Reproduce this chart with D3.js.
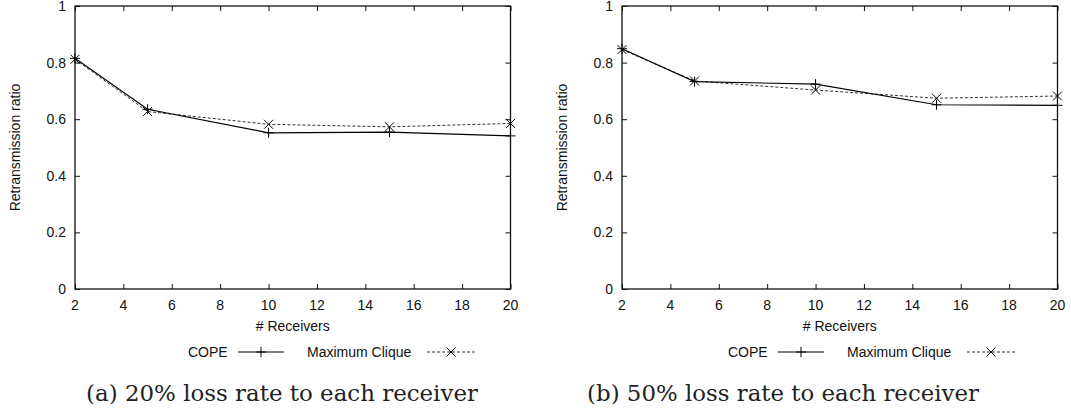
<!DOCTYPE html>
<html>
<head>
<meta charset="utf-8">
<script src="https://cdnjs.cloudflare.com/ajax/libs/d3/7.8.5/d3.min.js"></script>
<style>
  body { margin: 0; background: #fff; }
  svg { display: block; }
  .tick-label, .axis-title, .legend-label { font-family: "Liberation Sans", Arial, sans-serif; font-size: 14px; fill: #111; }
  .caption { font-family: "DejaVu Serif", serif; fill: #222; }
</style>
</head>
<body>
<div id="chart"></div>
<script>
// data
const receivers = [2, 5, 10, 15, 20];
const copeLoss20 = [0.815, 0.635, 0.552, 0.554, 0.541];
const cliqueLoss20 = [0.812, 0.627, 0.582, 0.573, 0.585];
const copeLoss50 = [0.849, 0.733, 0.724, 0.651, 0.649];
const cliqueLoss50 = [0.846, 0.735, 0.703, 0.674, 0.682];

const xTicks = [2, 4, 6, 8, 10, 12, 14, 16, 18, 20];
const yTicks = [0, 0.2, 0.4, 0.6, 0.8, 1];
const yTickLabels = ["0", "0.2", "0.4", "0.6", "0.8", "1"];
const seriesNames = ["COPE", "Maximum Clique"];
const captions = ["(a) 20% loss rate to each receiver", "(b) 50% loss rate to each receiver"];

const W = 1071, H = 410;
const plotTop = 6, plotBottom = 289;

const panels = [
    { left: 75, right: 510.5, legendX: 188, labelX: 20, captionX: 282, cope: copeLoss20, clique: cliqueLoss20, caption: captions[0] },
    { left: 622, right: 1057.5, legendX: 728, labelX: 567, captionX: 783, cope: copeLoss50, clique: cliqueLoss50, caption: captions[1] }
];

const svg = d3.select("#chart").append("svg")
    .attr("width", W)
    .attr("height", H);

const plusPath = "M-5,0H5M0,-5V5";
const crossPath = "M-4.5,-4.5L4.5,4.5M-4.5,4.5L4.5,-4.5";

function drawPanel(p) {
    const x = d3.scaleLinear().domain([2, 20]).range([p.left, p.right]);
    const y = d3.scaleLinear().domain([0, 1]).range([plotBottom, plotTop]);
    const g = svg.append("g");

    // inward ticks on all four sides (gnuplot style)
    g.append("g").attr("transform", `translate(0,${plotBottom})`)
        .call(d3.axisTop(x).tickValues(xTicks).tickSize(5).tickFormat(""))
        .call(a => a.select(".domain").remove());
    g.append("g").attr("transform", `translate(0,${plotTop})`)
        .call(d3.axisBottom(x).tickValues(xTicks).tickSize(5).tickFormat(""))
        .call(a => a.select(".domain").remove());
    g.append("g").attr("transform", `translate(${p.left},0)`)
        .call(d3.axisRight(y).tickValues(yTicks).tickSize(5).tickFormat(""))
        .call(a => a.select(".domain").remove());
    g.append("g").attr("transform", `translate(${p.right},0)`)
        .call(d3.axisLeft(y).tickValues(yTicks).tickSize(5).tickFormat(""))
        .call(a => a.select(".domain").remove());
    g.selectAll(".tick line").attr("stroke", "#111").attr("stroke-width", 1);

    g.append("rect")
        .attr("x", p.left).attr("y", plotTop)
        .attr("width", p.right - p.left).attr("height", plotBottom - plotTop)
        .attr("fill", "none").attr("stroke", "#111").attr("stroke-width", 1.3);

    g.selectAll(".xlab").data(xTicks).enter().append("text")
        .attr("class", "tick-label")
        .attr("x", d => x(d)).attr("y", 310)
        .attr("text-anchor", "middle")
        .text(d => d);

    g.selectAll(".ylab").data(yTicks).enter().append("text")
        .attr("class", "tick-label")
        .attr("x", p.left - 9).attr("y", d => y(d))
        .attr("dy", "0.35em")
        .attr("text-anchor", "end")
        .text((d, i) => yTickLabels[i]);

    g.append("text").attr("class", "axis-title")
        .attr("x", (p.left + p.right) / 2).attr("y", 331)
        .attr("text-anchor", "middle")
        .text("# Receivers");

    g.append("text").attr("class", "axis-title")
        .attr("transform", `translate(${p.labelX},${(plotTop + plotBottom) / 2}) rotate(-90)`)
        .attr("text-anchor", "middle")
        .text("Retransmission ratio");

    const line = d3.line().x(d => x(d[0])).y(d => y(d[1]));
    const copePts = receivers.map((r, i) => [r, p.cope[i]]);
    const cliquePts = receivers.map((r, i) => [r, p.clique[i]]);

    g.append("path").attr("d", line(cliquePts))
        .attr("fill", "none").attr("stroke", "#333").attr("stroke-width", 1)
        .attr("stroke-dasharray", "3,2");
    g.append("path").attr("d", line(copePts))
        .attr("fill", "none").attr("stroke", "#000").attr("stroke-width", 1.2);

    g.selectAll(".mc").data(cliquePts).enter().append("path")
        .attr("transform", d => `translate(${x(d[0])},${y(d[1])})`)
        .attr("d", crossPath).attr("stroke", "#000").attr("stroke-width", 1);
    g.selectAll(".cp").data(copePts).enter().append("path")
        .attr("transform", d => `translate(${x(d[0])},${y(d[1])})`)
        .attr("d", plusPath).attr("stroke", "#000").attr("stroke-width", 1);

    // legend
    const lg = g.append("g").attr("transform", `translate(${p.legendX},357)`);
    lg.append("text").attr("class", "legend-label").attr("x", 0).text(seriesNames[0]);
    lg.append("line").attr("x1", 50).attr("x2", 96).attr("y1", -5).attr("y2", -5)
        .attr("stroke", "#000").attr("stroke-width", 1.2);
    lg.append("path").attr("transform", "translate(73,-5)").attr("d", plusPath)
        .attr("stroke", "#000");
    lg.append("text").attr("class", "legend-label").attr("x", 119).text(seriesNames[1]);
    lg.append("line").attr("x1", 239).attr("x2", 288).attr("y1", -5).attr("y2", -5)
        .attr("stroke", "#333").attr("stroke-dasharray", "3,2");
    lg.append("path").attr("transform", "translate(263,-5)").attr("d", crossPath)
        .attr("stroke", "#000");

    // caption, sized to the width seen in the reference
    const cap = g.append("text").attr("class", "caption")
        .attr("x", p.captionX).attr("y", 401)
        .attr("text-anchor", "middle")
        .style("font-size", "20px")
        .text(p.caption);
    const w = cap.node().getComputedTextLength();
    cap.style("font-size", (20 * 392 / w) + "px");
}

panels.forEach(drawPanel);
</script>
</body>
</html>
